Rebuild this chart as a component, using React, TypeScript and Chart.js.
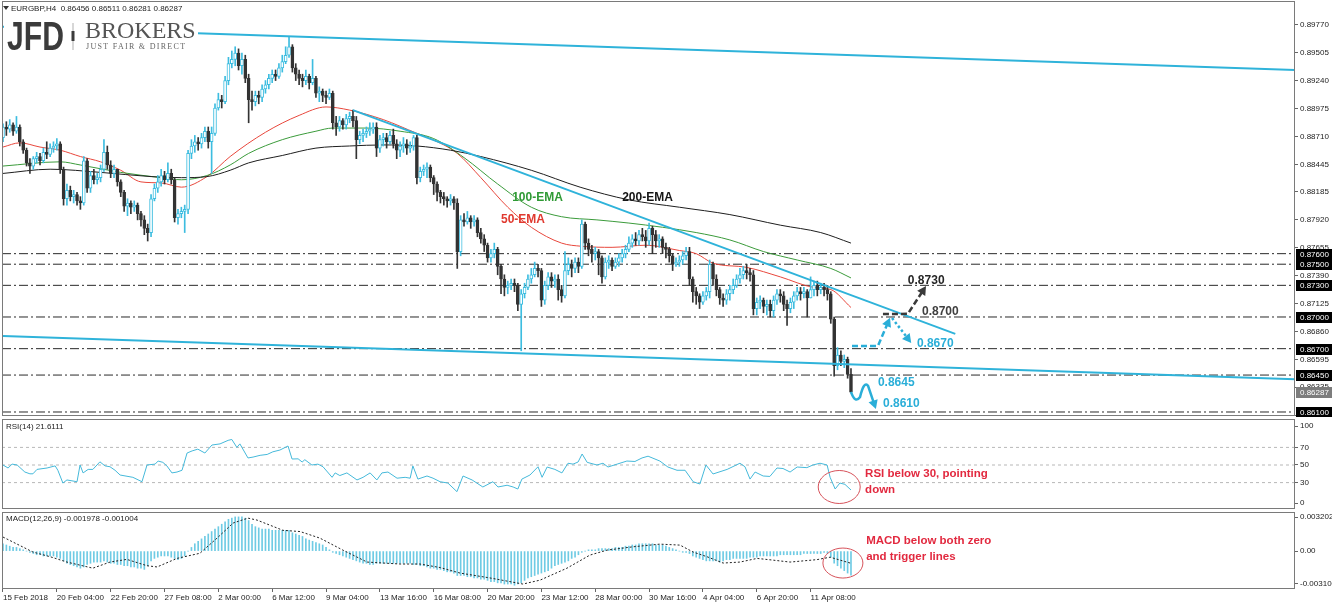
import React, { useEffect, useRef } from "react";
import { Chart, registerables } from "chart.js";
Chart.register(...registerables);

// ---------------- data ----------------
const dateLabels = ["15 Feb 2018", "20 Feb 04:00", "22 Feb 20:00", "27 Feb 08:00", "2 Mar 00:00", "6 Mar 12:00", "9 Mar 04:00", "13 Mar 16:00", "16 Mar 08:00", "20 Mar 20:00", "23 Mar 12:00", "28 Mar 00:00", "30 Mar 16:00", "4 Apr 04:00", "6 Apr 20:00", "11 Apr 08:00"];
const dateTickIdx = [0, 16, 32, 48, 64, 80, 96, 112, 128, 144, 160, 176, 192, 208, 224, 240];
const priceTicks = [0.8977, 0.89505, 0.8924, 0.88975, 0.8871, 0.88445, 0.88185, 0.8792, 0.87655, 0.8739, 0.87125, 0.8686, 0.86595, 0.86335, 0.8607];
const levelPrices = [0.876, 0.875, 0.873, 0.87, 0.867, 0.8645, 0.861];
const currentPrice = 0.86287;

// candles in pips (x 0.0001)
const firstOpen = 8870;
const closes = [
  8880, 8878, 8882, 8876, 8880, 8866, 8858, 8846, 8843, 8850,
  8852, 8848, 8856, 8854, 8860, 8862, 8864, 8840, 8812, 8820,
  8814, 8816, 8810, 8808, 8848, 8822, 8834, 8830, 8832, 8840,
  8856, 8844, 8836, 8840, 8828, 8818, 8805, 8808, 8804, 8806,
  8798, 8792, 8784, 8780, 8812, 8822, 8828, 8834, 8830, 8836,
  8830, 8794, 8798, 8800, 8802, 8855, 8862, 8866, 8864, 8870,
  8876, 8866, 8874, 8898, 8906, 8904, 8924, 8940, 8944, 8950,
  8938, 8944, 8926, 8906, 8904, 8910, 8908, 8916, 8920, 8926,
  8930, 8928, 8936, 8942, 8948, 8956, 8936, 8930, 8926, 8924,
  8928, 8922, 8926, 8912, 8914, 8910, 8908, 8912, 8884, 8880,
  8886, 8882, 8888, 8890, 8886, 8868, 8872, 8874, 8876, 8878,
  8880, 8860, 8868, 8870, 8866, 8872, 8864, 8858, 8862, 8864,
  8860, 8862, 8870, 8832, 8838, 8840, 8842, 8832, 8826, 8818,
  8814, 8812, 8810, 8812, 8808, 8762, 8792, 8790, 8794, 8790,
  8792, 8780, 8774, 8768, 8756, 8760, 8764, 8748, 8736, 8728,
  8730, 8732, 8730, 8712, 8722, 8728, 8736, 8740, 8746, 8744,
  8716, 8730, 8738, 8734, 8736, 8726, 8720, 8744, 8750, 8746,
  8752, 8748, 8788, 8770, 8764, 8760, 8762, 8756, 8738, 8752,
  8754, 8748, 8752, 8756, 8760, 8764, 8770, 8774, 8772, 8778,
  8776, 8772, 8784, 8778, 8772, 8774, 8766, 8764, 8758, 8750,
  8752, 8754, 8758, 8762, 8736, 8724, 8720, 8714, 8720, 8724,
  8750, 8736, 8726, 8718, 8716, 8722, 8726, 8730, 8736, 8740,
  8744, 8742, 8740, 8708, 8714, 8716, 8710, 8712, 8706, 8716,
  8722, 8720, 8712, 8708, 8714, 8720, 8724, 8722, 8724, 8718,
  8726, 8730, 8726, 8728, 8726, 8722, 8698, 8654, 8664, 8658,
  8660, 8645.6, 8628.7,
];
const highs = [
  8883, 8885, 8887, 8884, 8890, 8882, 8868, 8860, 8850, 8852,
  8856, 8855, 8860, 8866, 8864, 8866, 8869, 8866, 8842, 8826,
  8824, 8820, 8818, 8814, 8852, 8850, 8838, 8840, 8836, 8844,
  8868, 8862, 8848, 8844, 8840, 8830, 8820, 8812, 8810, 8810,
  8808, 8800, 8796, 8788, 8816, 8826, 8834, 8840, 8838, 8846,
  8840, 8832, 8802, 8804, 8806, 8858, 8868, 8872, 8870, 8874,
  8880, 8880, 8880, 8902, 8912, 8910, 8928, 8946, 8952, 8956,
  8954, 8950, 8948, 8930, 8914, 8914, 8914, 8920, 8924, 8930,
  8934, 8934, 8940, 8948, 8956, 8966, 8958, 8940, 8934, 8930,
  8934, 8930, 8944, 8928, 8918, 8916, 8914, 8916, 8914, 8890,
  8890, 8888, 8892, 8894, 8896, 8890, 8876, 8878, 8880, 8884,
  8884, 8884, 8872, 8874, 8874, 8876, 8878, 8868, 8866, 8870,
  8868, 8866, 8872, 8872, 8842, 8844, 8846, 8844, 8834, 8828,
  8820, 8818, 8814, 8816, 8814, 8812, 8796, 8798, 8800, 8796,
  8796, 8794, 8784, 8778, 8770, 8764, 8770, 8766, 8750, 8740,
  8734, 8736, 8736, 8732, 8726, 8732, 8740, 8746, 8752, 8750,
  8746, 8734, 8742, 8742, 8740, 8740, 8730, 8762, 8756, 8754,
  8756, 8756, 8792, 8790, 8774, 8768, 8766, 8764, 8758, 8756,
  8758, 8756, 8756, 8760, 8764, 8768, 8776, 8778, 8780, 8782,
  8784, 8782, 8789, 8786, 8782, 8778, 8776, 8770, 8766, 8760,
  8756, 8758, 8762, 8766, 8766, 8738, 8728, 8722, 8724, 8728,
  8754, 8752, 8740, 8728, 8722, 8726, 8730, 8736, 8740, 8746,
  8748, 8750, 8746, 8744, 8718, 8720, 8718, 8716, 8716, 8720,
  8726, 8726, 8724, 8716, 8718, 8724, 8728, 8728, 8728, 8726,
  8738, 8734, 8734, 8732, 8732, 8730, 8724, 8700, 8671, 8668,
  8664, 8662, 8651.1,
];
const lows = [
  8866, 8872, 8875, 8872, 8874, 8862, 8855, 8843, 8836, 8840,
  8846, 8844, 8846, 8850, 8852, 8856, 8858, 8836, 8806, 8806,
  8810, 8808, 8806, 8802, 8806, 8818, 8818, 8826, 8826, 8828,
  8838, 8840, 8832, 8832, 8824, 8814, 8800, 8796, 8798, 8800,
  8792, 8786, 8778, 8772, 8776, 8810, 8818, 8824, 8826, 8828,
  8826, 8790, 8788, 8794, 8780, 8798, 8850, 8856, 8858, 8860,
  8866, 8860, 8836, 8872, 8896, 8898, 8902, 8920, 8936, 8938,
  8934, 8930, 8922, 8884, 8896, 8900, 8902, 8904, 8912, 8916,
  8922, 8924, 8926, 8932, 8940, 8946, 8932, 8924, 8920, 8918,
  8920, 8916, 8920, 8908, 8904, 8904, 8902, 8906, 8878, 8872,
  8876, 8878, 8878, 8884, 8880, 8850, 8864, 8866, 8870, 8872,
  8874, 8852, 8856, 8862, 8860, 8864, 8860, 8850, 8852, 8856,
  8854, 8856, 8858, 8826, 8828, 8834, 8832, 8828, 8816, 8810,
  8808, 8806, 8804, 8806, 8802, 8746, 8758, 8786, 8788, 8784,
  8786, 8776, 8770, 8762, 8752, 8752, 8756, 8740, 8722, 8720,
  8722, 8726, 8724, 8706, 8668, 8718, 8726, 8732, 8738, 8738,
  8710, 8712, 8726, 8728, 8728, 8716, 8714, 8718, 8740, 8738,
  8742, 8742, 8746, 8764, 8758, 8752, 8754, 8740, 8732, 8736,
  8746, 8744, 8746, 8748, 8752, 8756, 8762, 8766, 8768, 8768,
  8772, 8766, 8768, 8760, 8766, 8766, 8760, 8756, 8752, 8744,
  8748, 8748, 8750, 8754, 8730, 8714, 8712, 8708, 8712, 8716,
  8718, 8730, 8720, 8712, 8710, 8712, 8716, 8722, 8728, 8732,
  8736, 8736, 8734, 8702, 8702, 8708, 8704, 8702, 8700, 8700,
  8712, 8714, 8706, 8692, 8704, 8708, 8716, 8716, 8718, 8700,
  8718, 8720, 8720, 8722, 8720, 8716, 8694, 8644, 8650, 8654,
  8652, 8642, 8628.1,
];

// moving averages (bar index, pips)
const ema50Idx = [0, 5, 11, 17, 23, 29, 35, 41, 47, 53, 60.6, 67.5, 78, 88, 96, 103, 113, 123, 127, 135, 142, 150, 157, 166, 172, 181, 191, 201, 206, 211, 221, 231, 241, 246, 252];
const ema50Val = [8861, 8865, 8861, 8858, 8852, 8847, 8839, 8828, 8827, 8823, 8833, 8852, 8875, 8891, 8899, 8896, 8887, 8874, 8869, 8855, 8832, 8804, 8785, 8770, 8767, 8766, 8768, 8763, 8760, 8751, 8747, 8738, 8728, 8726, 8709];
const ema100Idx = [0, 17, 23, 35, 47, 53, 60.6, 67.5, 73, 83, 93, 98, 108, 118, 128, 137, 147, 157, 166, 176.5, 186, 196, 206, 216, 226, 236, 246, 252];
const ema100Val = [8843, 8847, 8844, 8837, 8832, 8830, 8834, 8844, 8855, 8868, 8876, 8879, 8879, 8876, 8869, 8851, 8826, 8804, 8795, 8792, 8789, 8785, 8780, 8773, 8762, 8754, 8746, 8737];
const ema200Idx = [0, 14, 29, 44, 53, 60.6, 67.5, 73, 83, 93, 103, 113, 123, 133, 142, 157, 171.5, 186, 201, 216, 231, 243, 252];
const ema200Val = [8836, 8840, 8837, 8833, 8832, 8833, 8839, 8846, 8853, 8860, 8862, 8863, 8862, 8858, 8852, 8839, 8823, 8811, 8804, 8797, 8787, 8780, 8770];

// trend lines (bar index, price)
const upperIdx = [0, 384];
const upperVal = [0.8975, 0.8934];
const lowerIdx = [0, 384];
const lowerVal = [0.8682, 0.8641];
const descIdx = [104, 283];
const descVal = [0.8896, 0.8684];

// RSI(14)
const rsiIdx = [0, 1.5, 2.7, 4.2, 6.5, 8, 8.9, 10.1, 13.1, 15.5, 16.3, 17.8, 19, 20.5, 22, 22.9, 23.8, 25.3, 26.7, 28.8, 30.3, 31.8, 33.3, 34.8, 38.6, 41.3, 42.8, 45.2, 46.1, 47.5, 48.7, 50.2, 51.7, 53.2, 54.7, 56.2, 57.9, 60, 62.1, 64.5, 66.9, 68, 69.5, 70.4, 72.8, 74.3, 76.4, 78.5, 80.2, 82.3, 84.7, 85.9, 87.7, 88.9, 89.7, 91.8, 93.6, 95.1, 97.8, 98.7, 100.1, 102.2, 105.2, 107, 109.1, 111.1, 112.6, 114.4, 117.1, 119.5, 121, 121.8, 123.3, 126, 127.8, 129.9, 132.2, 134.9, 136.7, 139.4, 142.6, 145.6, 147.1, 149.8, 151.6, 153, 154.2, 156.6, 159, 160.2, 161.7, 164, 166.1, 167.9, 169.4, 170.9, 172.1, 173.6, 176.5, 178.3, 179.8, 182.5, 185.4, 187.8, 189.9, 191.7, 195.2, 197.6, 200.3, 202.7, 205.1, 207.1, 208.9, 211, 215.2, 219, 220.5, 222, 223.5, 225.9, 227.9, 230, 231.8, 233.9, 236, 238.9, 240.7, 242.8, 244.9, 245.8, 247.3, 248.7, 250.2, 252];
const rsiVal = [50, 46.6, 51, 50, 42, 40, 40, 45, 46.6, 49, 44, 29.5, 33, 32, 31, 50, 41, 45, 45, 53.6, 49, 48, 44, 38.6, 36, 31, 50, 51, 54.5, 53, 49, 41, 42, 44, 63.6, 66, 68, 63.6, 72.7, 74, 78, 79, 70, 74, 58, 59, 61, 62, 65, 67, 71.6, 56.8, 57, 53.4, 56, 50, 51, 48, 36, 41, 38, 41, 33, 36, 41, 33, 41, 42, 35, 36, 35, 49, 34, 37.5, 35, 31, 29.5, 19.7, 37.5, 33, 25, 31, 25, 27, 25, 22.7, 34, 38.6, 48, 36, 47.7, 45, 41, 52, 51, 53.4, 62.5, 53, 50, 52, 47.7, 51, 54.5, 54, 58, 60, 54.5, 47.7, 44, 44, 31, 28.4, 50, 39.8, 45, 52, 48, 34, 42, 37.5, 37, 46.6, 46, 42, 47.7, 47, 50, 52, 50, 36, 22.7, 29.5, 28, 21.6];
const rsiLevels = [30, 50, 70];

// MACD(12,26,9) histogram per bar (x 0.0001) and signal line
const macdHist = [
  6, 5, 4, 3, 3, 2, 1, 0, -1, -2, -3, -3, -4, -4, -4, -4, -5, -6, -8, -10,
  -11, -12, -13, -14, -13, -11, -10, -9, -9, -9, -8, -9, -10, -10, -11, -11, -12, -12, -13, -13,
  -14, -14, -15, -12, -8, -6, -5, -4, -4, -4, -5, -6, -7, -6, -4, 0, 3, 6, 8, 10,
  12, 14, 16, 18, 20, 22, 24, 26, 27, 28, 28, 28, 27, 25, 22, 20, 19, 18, 18, 18,
  17, 17, 17, 17, 17, 17, 15, 14, 13, 12, 10, 9, 8, 7, 6, 5, 3, 1, -1, -2,
  -3, -4, -5, -6, -7, -8, -9, -10, -10, -11, -11, -10, -10, -10, -10, -10, -10, -10, -10, -10,
  -10, -10, -11, -11, -12, -12, -13, -14, -14, -15, -15, -16, -17, -17, -18, -20, -20, -20, -21, -21,
  -22, -22, -23, -23, -24, -25, -25, -26, -26, -27, -27, -27, -28, -27, -26, -24, -22, -21, -20, -19,
  -18, -17, -16, -14, -12, -11, -10, -9, -8, -6, -5, -3, -1, 0, 1, 1, 1, 2, 2, 2,
  2, 2, 3, 3, 3, 4, 4, 5, 5, 6, 6, 6, 6, 6, 5, 5, 5, 4, 3, 2,
  1, 0, -1, -1, -2, -4, -5, -6, -7, -8, -8, -8, -8, -9, -8, -7, -7, -6, -6, -6,
  -6, -6, -5, -5, -5, -4, -4, -4, -4, -4, -4, -3, -3, -3, -3, -3, -3, -3, -2, -2,
  -2, -2, -2, -2, -1, -2, -5, -10, -12, -14, -16, -18, -19.8,
];
const sigIdx = [0, 8.9, 14, 19, 26.7, 31.8, 36.8, 42.8, 45.8, 51.7, 58.5, 63.6, 68.4, 72.8, 75.5, 83.2, 88.3, 94.2, 101, 108.2, 118, 123.9, 129.9, 135.8, 144.7, 154.5, 159.6, 167.6, 174.4, 179.5, 187.2, 195.2, 201.2, 205.1, 209.2, 214, 219, 224.1, 228.8, 233.9, 241.9, 245.8, 252];
const sigVal = [11.5, -0.8, -4.6, -9, -14, -9, -6.8, -12, -13, -6, -1.8, 10.6, 23, 27, 25.4, 17, 16, 10.6, 0.8, -9, -10.6, -10.6, -13.5, -18, -22, -27, -23.8, -14, -3.3, 0.8, 3.5, 5.7, 4.9, -0.8, -4.6, -9.8, -9, -6, -7.4, -9, -7, -5, -10];

// ---------------- styling ----------------
const FONT = '"Liberation Sans", Arial, Helvetica, sans-serif';
const SERIF = '"Liberation Serif", "DejaVu Serif", serif';
const CYAN = "#3dbde0";
const ANNO = "#2aaed8";
const BEAR = "#333333";
const X_MIN = -0.297;
const X_MAX = 383.95;
const Y_MAX = 0.899936;
const Y_MIN = 0.860621;

function noPad(s: any) {
  s.paddingTop = 0;
  s.paddingBottom = 0;
  s.paddingLeft = 0;
  s.paddingRight = 0;
}

function xAxis(show: boolean): any {
  if (!show) {
    return { type: "linear", min: X_MIN, max: X_MAX, offset: false, display: false, grid: { display: false, offset: false } };
  }
  return {
    type: "linear", min: X_MIN, max: X_MAX, offset: false, display: true,
    grid: { display: true, drawOnChartArea: false, drawTicks: true, tickLength: 3, color: "#666", offset: false },
    border: { display: false },
    afterBuildTicks: (s: any) => { s.ticks = dateTickIdx.map((v) => ({ value: v })); },
    afterFit: (s: any) => { s.height = 18; noPad(s); },
    ticks: {
      autoSkip: false, maxRotation: 0, minRotation: 0, align: "start", padding: 1,
      color: "#222", font: { family: FONT, size: 8 },
      callback: (_v: any, idx: number) => dateLabels[idx] ?? "",
    },
  };
}

function yAxis(min: number, max: number, ticks: number[], fmt: (v: number) => string): any {
  return {
    type: "linear", position: "right", min, max,
    afterBuildTicks: (s: any) => { s.ticks = ticks.map((v) => ({ value: v })); },
    afterFit: (s: any) => { s.width = 37; noPad(s); },
    ticks: { autoSkip: false, padding: 2, color: "#222", font: { family: FONT, size: 8 }, callback: (v: any) => fmt(Number(v)) },
    grid: { drawOnChartArea: false, drawTicks: true, tickLength: 3, color: "#666" },
    border: { display: false },
  };
}

const baseOptions = (padding: any) => ({
  animation: false as const,
  responsive: false,
  maintainAspectRatio: false,
  devicePixelRatio: 1,
  events: [] as any[],
  layout: { padding },
  plugins: { legend: { display: false }, tooltip: { enabled: false } },
});

function frame(ctx: CanvasRenderingContext2D, a: any) {
  ctx.save();
  ctx.strokeStyle = "#7a7a7a";
  ctx.lineWidth = 1;
  ctx.setLineDash([]);
  ctx.strokeRect(Math.round(a.left) + 0.5, Math.round(a.top) + 0.5, Math.round(a.right - a.left) - 1, Math.round(a.bottom - a.top) - 1);
  ctx.restore();
}

function head(ctx: CanvasRenderingContext2D, tx: number, ty: number, ang: number, L: number, color: string) {
  ctx.save();
  ctx.setLineDash([]);
  ctx.fillStyle = color;
  ctx.beginPath();
  ctx.moveTo(tx, ty);
  ctx.lineTo(tx - L * Math.cos(ang - 0.5), ty - L * Math.sin(ang - 0.5));
  ctx.lineTo(tx - L * Math.cos(ang + 0.5), ty - L * Math.sin(ang + 0.5));
  ctx.closePath();
  ctx.fill();
  ctx.restore();
}

function pathArrow(ctx: CanvasRenderingContext2D, pts: number[][], color: string, dash: number[], width: number) {
  const n = pts.length;
  const [tx, ty] = pts[n - 1];
  const [sx, sy] = pts[n - 2];
  const ang = Math.atan2(ty - sy, tx - sx);
  const L = 10;
  ctx.save();
  ctx.strokeStyle = color;
  ctx.lineWidth = width;
  ctx.setLineDash(dash);
  ctx.beginPath();
  ctx.moveTo(pts[0][0], pts[0][1]);
  for (let k = 1; k < n - 1; k++) ctx.lineTo(pts[k][0], pts[k][1]);
  ctx.lineTo(tx - Math.cos(ang) * L * 0.7, ty - Math.sin(ang) * L * 0.7);
  ctx.stroke();
  ctx.restore();
  head(ctx, tx, ty, ang, L, color);
}

function text(ctx: CanvasRenderingContext2D, s: string, x: number, y: number, font: string, color: string) {
  ctx.font = font;
  ctx.fillStyle = color;
  ctx.textAlign = "left";
  ctx.textBaseline = "middle";
  ctx.fillText(s, x, y);
}

const mainPlugin = {
  id: "mainDecor",
  afterDraw(chart: any) {
    const ctx: CanvasRenderingContext2D = chart.ctx;
    const a = chart.chartArea;
    const xs = chart.scales.x;
    const ys = chart.scales.y;
    const P = (i: number, p: number) => [xs.getPixelForValue(i), ys.getPixelForValue(p)];
    ctx.save();

    // moving average labels
    const bold12 = `bold 12px ${FONT}`;
    text(ctx, "100-EMA", xs.getPixelForValue(151.3), ys.getPixelForValue(0.88127), bold12, "#2f9a35");
    text(ctx, "200-EMA", xs.getPixelForValue(184), ys.getPixelForValue(0.88127), bold12, "#151515");
    text(ctx, "50-EMA", xs.getPixelForValue(148), ys.getPixelForValue(0.87919), bold12, "#e0392f");

    // scenario arrows
    pathArrow(ctx, [P(252.3, 0.86725), P(260, 0.86725), P(263.6, 0.86993)], ANNO, [6, 3], 2.5);
    pathArrow(ctx, [P(261.5, 0.87028), P(268.9, 0.8703), P(274.3, 0.87294)], "#3a3a3a", [6, 3], 2.5);
    pathArrow(ctx, [P(264.2, 0.86991), P(269.9, 0.86754)], ANNO, [2.5, 2.5], 2.5);
    // wave down
    {
      const p0 = P(252, 0.8629), c1 = P(253.2, 0.86176), p1 = P(254.7, 0.86242);
      const c2 = P(255.9, 0.86403), p2 = P(257.1, 0.86346), tip = P(259.4, 0.86128);
      const ang = Math.atan2(tip[1] - p2[1], tip[0] - p2[0]);
      ctx.save();
      ctx.strokeStyle = ANNO;
      ctx.lineWidth = 2.5;
      ctx.setLineDash([]);
      ctx.beginPath();
      ctx.moveTo(p0[0], p0[1]);
      ctx.quadraticCurveTo(c1[0], c1[1], p1[0], p1[1]);
      ctx.quadraticCurveTo(c2[0], c2[1], p2[0], p2[1]);
      ctx.lineTo(tip[0] - Math.cos(ang) * 7, tip[1] - Math.sin(ang) * 7);
      ctx.stroke();
      ctx.restore();
      head(ctx, tip[0], tip[1], ang, 10, ANNO);
    }
    text(ctx, "0.8730", xs.getPixelForValue(268.9), ys.getPixelForValue(0.87341), bold12, "#262626");
    text(ctx, "0.8700", xs.getPixelForValue(273.1), ys.getPixelForValue(0.87047), bold12, "#404040");
    text(ctx, "0.8670", xs.getPixelForValue(271.6), ys.getPixelForValue(0.86744), bold12, ANNO);
    text(ctx, "0.8645", xs.getPixelForValue(260), ys.getPixelForValue(0.86375), bold12, ANNO);
    text(ctx, "0.8610", xs.getPixelForValue(261.5), ys.getPixelForValue(0.86176), bold12, ANNO);

    // logo
    ctx.fillStyle = "#ffffff";
    ctx.fillRect(4, 13, 194, 40);
    ctx.font = `bold 40px ${FONT}`;
    ctx.fillStyle = "#3b3b3b";
    ctx.textBaseline = "alphabetic";
    ctx.textAlign = "left";
    ctx.fillText("JFD", 7, 50, 57);
    ctx.fillStyle = "#b0b0b0";
    ctx.fillRect(72.5, 23, 1, 27);
    ctx.fillStyle = "#3b3b3b";
    ctx.fillRect(71.5, 31, 3, 10);
    ctx.font = `24px ${SERIF}`;
    ctx.fillStyle = "#555555";
    ctx.fillText("BROKERS", 85, 38);
    ctx.font = `8px ${SERIF}`;
    ctx.fillStyle = "#666666";
    try { (ctx as any).letterSpacing = "1.3px"; } catch (e) {}
    ctx.fillText("JUST FAIR & DIRECT", 86, 48.5);
    try { (ctx as any).letterSpacing = "0px"; } catch (e) {}

    // header
    ctx.fillStyle = "#333";
    ctx.beginPath();
    ctx.moveTo(3, 6);
    ctx.lineTo(9, 6);
    ctx.lineTo(6, 10);
    ctx.closePath();
    ctx.fill();
    text(ctx, "EURGBP,H4  0.86456 0.86511 0.86281 0.86287", 11, 8.5, `8px ${FONT}`, "#222");

    ctx.restore();
    frame(ctx, a);

    // price boxes on the axis
    ctx.save();
    const box = (p: number, bg: string) => {
      const y = Math.round(ys.getPixelForValue(p));
      ctx.fillStyle = bg;
      ctx.fillRect(Math.round(a.right) + 1, y - 5, 40, 11);
      text(ctx, p.toFixed(5), Math.round(a.right) + 5, y + 0.5, `8px ${FONT}`, "#ffffff");
    };
    levelPrices.forEach((p) => box(p, "#000000"));
    box(currentPrice, "#7d7d7d");
    ctx.restore();
  },
};

const rsiPlugin = {
  id: "rsiDecor",
  afterDraw(chart: any) {
    const ctx: CanvasRenderingContext2D = chart.ctx;
    const a = chart.chartArea;
    const xs = chart.scales.x;
    const ys = chart.scales.y;
    ctx.save();
    text(ctx, "RSI(14) 21.6111", 6, a.top + 8, `8px ${FONT}`, "#222");
    ctx.strokeStyle = "#d6525a";
    ctx.lineWidth = 1;
    ctx.beginPath();
    ctx.ellipse(xs.getPixelForValue(248.5), ys.getPixelForValue(25), 21, 16.5, 0, 0, Math.PI * 2);
    ctx.stroke();
    const f = `bold 11.5px ${FONT}`;
    text(ctx, "RSI below 30, pointing", xs.getPixelForValue(256.2), ys.getPixelForValue(39.8), f, "#e2293f");
    text(ctx, "down", xs.getPixelForValue(256.2), ys.getPixelForValue(21.6), f, "#e2293f");
    ctx.restore();
    frame(ctx, a);
  },
};

const macdPlugin = {
  id: "macdDecor",
  afterDraw(chart: any) {
    const ctx: CanvasRenderingContext2D = chart.ctx;
    const a = chart.chartArea;
    const xs = chart.scales.x;
    const ys = chart.scales.y;
    ctx.save();
    text(ctx, "MACD(12,26,9) -0.001978 -0.001004", 6, a.top + 7, `8px ${FONT}`, "#222");
    ctx.strokeStyle = "#d6525a";
    ctx.lineWidth = 1;
    ctx.beginPath();
    ctx.ellipse(xs.getPixelForValue(249.6), ys.getPixelForValue(-0.00098), 20, 15, 0, 0, Math.PI * 2);
    ctx.stroke();
    const f = `bold 11.5px ${FONT}`;
    text(ctx, "MACD below both zero", xs.getPixelForValue(256.5), ys.getPixelForValue(0.00082), f, "#e2293f");
    text(ctx, "and trigger lines", xs.getPixelForValue(256.5), ys.getPixelForValue(-0.00049), f, "#e2293f");
    ctx.restore();
    frame(ctx, a);
  },
};

function lineDs(idx: number[], val: number[], scale: number, color: string, width: number, order: number, extra: any = {}) {
  return {
    type: "line",
    data: idx.map((x, k) => ({ x, y: val[k] / scale })),
    borderColor: color,
    borderWidth: width,
    pointRadius: 0,
    fill: false,
    order,
    ...extra,
  };
}

function mainConfig(): any {
  const opens = closes.map((c, i) => (i === 0 ? firstOpen : closes[i - 1]));
  const bull = closes.map((c, i) => c >= opens[i]);
  const wicks = closes.map((c, i) => ({ x: i, y: [Math.min(lows[i], opens[i], c) / 1e4, Math.max(highs[i], opens[i], c) / 1e4] }));
  const bodies = closes.map((c, i) => ({ x: i, y: [Math.min(opens[i], c) / 1e4, Math.max(opens[i], c) / 1e4] }));
  const levels = levelPrices.map((p) => ({
    type: "line",
    data: [{ x: X_MIN, y: p }, { x: X_MAX, y: p }],
    borderColor: "#2a2a2a",
    borderWidth: 1,
    borderDash: [9, 3, 2, 3],
    pointRadius: 0,
    fill: false,
    order: 60,
  }));
  return {
    type: "bar",
    data: {
      datasets: [
        ...levels,
        lineDs(ema200Idx, ema200Val, 1e4, "#1e1e1e", 1, 40, { cubicInterpolationMode: "monotone" }),
        lineDs(ema100Idx, ema100Val, 1e4, "#3b9b3b", 1, 40, { cubicInterpolationMode: "monotone" }),
        lineDs(ema50Idx, ema50Val, 1e4, "#e8473c", 1, 40, { cubicInterpolationMode: "monotone" }),
        {
          type: "bar", data: wicks, grouped: false, barThickness: 1, order: 30,
          backgroundColor: bull.map((b) => (b ? CYAN : BEAR)), borderWidth: 0,
        },
        {
          type: "bar", data: bodies, grouped: false, barThickness: 3, order: 20, minBarLength: 1,
          backgroundColor: bull.map((b) => (b ? "#ffffff" : BEAR)),
          borderColor: bull.map((b) => (b ? CYAN : BEAR)), borderWidth: 1, borderSkipped: false,
        },
        lineDs(upperIdx, upperVal, 1, "#2fb3da", 2, 10),
        lineDs(lowerIdx, lowerVal, 1, "#2fb3da", 2, 10),
        lineDs(descIdx, descVal, 1, "#2fb3da", 2, 10),
      ],
    },
    options: {
      ...baseOptions({ left: 2, top: 1, bottom: 1, right: 0 }),
      scales: {
        x: xAxis(false),
        y: yAxis(Y_MIN, Y_MAX, priceTicks, (v) => v.toFixed(5)),
      },
    },
    plugins: [mainPlugin],
  };
}

function rsiConfig(): any {
  const levels = rsiLevels.map((v) => ({
    type: "line",
    data: [{ x: X_MIN, y: v }, { x: X_MAX, y: v }],
    borderColor: "#b8b8b8",
    borderWidth: 1,
    borderDash: [3, 3],
    pointRadius: 0,
    fill: false,
    order: 20,
  }));
  return {
    type: "line",
    data: {
      datasets: [...levels, lineDs(rsiIdx, rsiVal, 1, "#45b9da", 1, 10)],
    },
    options: {
      ...baseOptions({ left: 2, top: 2, bottom: 1, right: 0 }),
      scales: {
        x: xAxis(false),
        y: yAxis(0, 102.27, [6.8, 30, 50, 70, 94.3], (v) => (v > 90 ? "100" : v < 10 ? "0" : String(Math.round(v)))),
      },
    },
    plugins: [rsiPlugin],
  };
}

function macdConfig(): any {
  return {
    type: "bar",
    data: {
      datasets: [
        lineDs(sigIdx, sigVal, 1e4, "#222222", 1, 10, { borderDash: [2, 2] }),
        {
          type: "bar",
          data: macdHist.map((v, i) => ({ x: i, y: v / 1e4 })),
          grouped: false,
          barThickness: 1,
          backgroundColor: "#6fcbe4",
          borderWidth: 0,
          order: 20,
        },
      ],
    },
    options: {
      ...baseOptions({ left: 2, top: 2, bottom: 0, right: 0 }),
      scales: {
        x: xAxis(true),
        y: yAxis(-0.003106, 0.003202, [0.002792, 0, -0.002696], (v) => (v > 0.001 ? "0.003202" : v < -0.001 ? "-0.003106" : "0.00")),
      },
    },
    plugins: [macdPlugin],
  };
}

export default function App() {
  const mainRef = useRef<HTMLCanvasElement>(null);
  const rsiRef = useRef<HTMLCanvasElement>(null);
  const macdRef = useRef<HTMLCanvasElement>(null);

  useEffect(() => {
    const charts: Chart[] = [];
    if (mainRef.current) charts.push(new Chart(mainRef.current, mainConfig()));
    if (rsiRef.current) charts.push(new Chart(rsiRef.current, rsiConfig()));
    if (macdRef.current) charts.push(new Chart(macdRef.current, macdConfig()));
    return () => charts.forEach((c) => c.destroy());
  }, []);

  return (
    <div style={{ position: "fixed", left: 0, top: 0, width: 1332, height: 607, background: "#ffffff", overflow: "hidden" }}>
      <canvas ref={mainRef} width={1332} height={417} style={{ position: "absolute", left: 0, top: 0, width: 1332, height: 417 }} />
      <canvas ref={rsiRef} width={1332} height={93} style={{ position: "absolute", left: 0, top: 417, width: 1332, height: 93 }} />
      <canvas ref={macdRef} width={1332} height={97} style={{ position: "absolute", left: 0, top: 510, width: 1332, height: 97 }} />
    </div>
  );
}
